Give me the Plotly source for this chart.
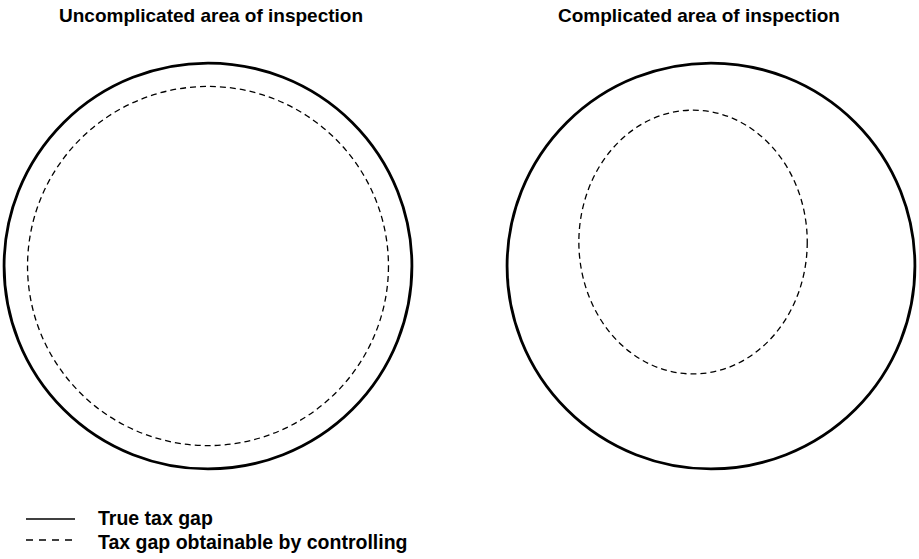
import plotly.graph_objects as go

# panels and the two gaps drawn in each one (units: true tax gap radius = 1)
panel_titles = ["Uncomplicated area of inspection", "Complicated area of inspection"]
true_gap_radius = [1.0, 1.0]
obtainable_cx = [0.0, -0.088]
obtainable_cy = [0.0, 0.118]
obtainable_rx = [0.885, 0.56]
obtainable_ry = [0.885, 0.65]
legend_labels = ["True tax gap", "Tax gap obtainable by controlling"]

W, H = 919, 559
FONT = "Liberation Sans, Arial, sans-serif"

panel_center_px = [208, 711]
panel_half_px = 208
y_domain = [(H - 473) / H, (H - 59) / H]

fig = go.Figure()
layout_axes = {}
for i, cx_px in enumerate(panel_center_px):
    n = "" if i == 0 else str(i + 1)
    d0 = max(0.0, (cx_px - panel_half_px) / W)
    d1 = min(1.0, (cx_px + panel_half_px) / W)
    layout_axes[f"xaxis{n}"] = dict(domain=[d0, d1], range=[-1.02, 1.02], visible=False,
                                    anchor=f"y{n}")
    layout_axes[f"yaxis{n}"] = dict(domain=y_domain, range=[-1.02, 1.02], visible=False,
                                    anchor=f"x{n}")
    # invisible trace so the axes exist
    fig.add_trace(go.Scatter(x=[0], y=[0], mode="markers", marker=dict(opacity=0),
                             xaxis=f"x{n}", yaxis=f"y{n}", showlegend=False, hoverinfo="skip"))

    r = true_gap_radius[i]
    fig.add_shape(type="circle", xref=f"x{n}", yref=f"y{n}",
                  x0=-r, x1=r, y0=-r, y1=r,
                  line=dict(color="black", width=2.8))
    fig.add_shape(type="circle", xref=f"x{n}", yref=f"y{n}",
                  x0=obtainable_cx[i] - obtainable_rx[i], x1=obtainable_cx[i] + obtainable_rx[i],
                  y0=obtainable_cy[i] - obtainable_ry[i], y1=obtainable_cy[i] + obtainable_ry[i],
                  line=dict(color="black", width=1.3, dash="6px,4px"))

title_x_px = [211, 699]
for t, xp in zip(panel_titles, title_x_px):
    fig.add_annotation(text=f"<b>{t}</b>", x=xp / W, y=1 - 15.5 / H, xref="paper", yref="paper",
                       xanchor="center", yanchor="middle", showarrow=False,
                       font=dict(family=FONT, size=19, color="black"))

# hand-made legend
legend_line_y_px = [519, 540]
legend_text_y_px = [518, 542]
legend_dash = ["solid", "7px,6px"]
legend_width = [1.5, 1.3]
for lbl, ly, ty, dsh, lw in zip(legend_labels, legend_line_y_px, legend_text_y_px,
                                legend_dash, legend_width):
    fig.add_shape(type="line", xref="paper", yref="paper",
                  x0=26 / W, x1=75 / W, y0=1 - ly / H, y1=1 - ly / H,
                  line=dict(color="black", width=lw, dash=dsh))
    fig.add_annotation(text=f"<b>{lbl}</b>", x=96 / W, y=1 - ty / H, xref="paper", yref="paper",
                       xanchor="left", yanchor="middle", showarrow=False,
                       font=dict(family=FONT, size=19.5, color="black"))

fig.update_layout(
    width=W, height=H,
    margin=dict(l=0, r=0, t=0, b=0),
    paper_bgcolor="white", plot_bgcolor="white",
    showlegend=False,
    **layout_axes,
)

# drop the browser's default 8px body margin so the figure fills the window
fig.write_html("out.html",
               config={"displayModeBar": False},
               post_script="document.body.style.margin='0';document.body.style.overflow='hidden';")
